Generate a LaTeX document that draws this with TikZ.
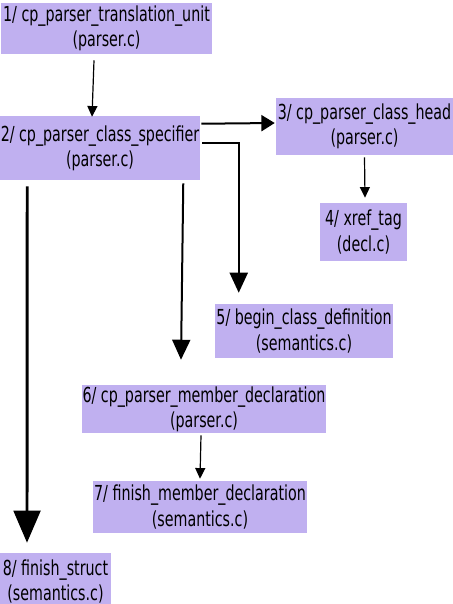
\documentclass[tikz,border=0pt]{standalone}
\usepackage{fontspec}
\setmainfont{DejaVu Sans}[FakeStretch=0.69]
\usetikzlibrary{arrows.meta,calc}
\definecolor{boxfill}{RGB}{192,176,240}
\tikzset{
  fn/.style={fill=boxfill, draw=none, inner sep=0pt, align=center,
    font=\fontsize{15.5}{19}\selectfont},
  thinarrow/.style={line width=0.9pt, -{Triangle[length=8pt,width=7.5pt]}},
  midarrow/.style={line width=1.5pt, -{Triangle[length=10pt,width=12pt]}},
  bigarrow/.style={line width=1.5pt, -{Triangle[length=15pt,width=13.5pt]}},
  hugearrow/.style={line width=2.2pt, -{Triangle[length=24pt,width=20pt]}},
}
\begin{document}
\begin{tikzpicture}[x=0.75pt,y=-0.75pt]
\useasboundingbox (0,0) rectangle (453,604);
% function boxes: name, file
\node[fn, minimum width=158.25pt, minimum height=38.25pt] (n1) at (106.5,28.5)
  {1/ cp\_parser\_translation\_unit\\(parser.c)};
\node[fn, minimum width=150pt, minimum height=48pt] (n2) at (100,148)
  {2/ cp\_parser\_class\_specifier\\(parser.c)};
\node[fn, minimum width=132.75pt, minimum height=42.75pt] (n3) at (364.5,126.5)
  {3/ cp\_parser\_class\_head\\(parser.c)};
\node[fn, minimum width=65.25pt, minimum height=43.5pt] (n4) at (363.5,232)
  {4/ xref\_tag\\(decl.c)};
\node[fn, minimum width=133.5pt, minimum height=40.5pt] (n5) at (304,331)
  {5/ begin\_class\_definition\\(semantics.c)};
\node[fn, minimum width=183pt, minimum height=36pt] (n6) at (204,409)
  {6/ cp\_parser\_member\_declaration\\(parser.c)};
\node[fn, minimum width=160.5pt, minimum height=39pt] (n7) at (200,507)
  {7/ finish\_member\_declaration\\(semantics.c)};
\node[fn, minimum width=83.25pt, minimum height=42.75pt] (n8) at (55.5,581.5)
  {8/ finish\_struct\\(semantics.c)};
% call edges
\draw[thinarrow] ($(n1.south)+(-12.5,6)$) -- ($(n2.north)+(-8,1)$);
\draw[midarrow] ($(n2.north east)+(1,8)$) -- ($(n3.west)+(-1,-3.5)$);
\draw[bigarrow] ($(n2.north east)+(2,27)$) -| ($(n5.north west)+(24,-11)$);
\draw[bigarrow] ($(n2.south east)+(-17,3)$) -- ($(n6.north)+(-23,-25)$);
\draw[hugearrow] ($(n2.south west)+(27.5,6)$) -- ($(n8.north)+(-28.5,-10)$);
\draw[thinarrow] ($(n3.south)+(0,2)$) -- ($(n4.north)+(1.5,-5)$);
\draw[thinarrow] ($(n6.south)+(-3,2)$) -- ($(n7.north)+(0,-2)$);
\end{tikzpicture}
\end{document}
